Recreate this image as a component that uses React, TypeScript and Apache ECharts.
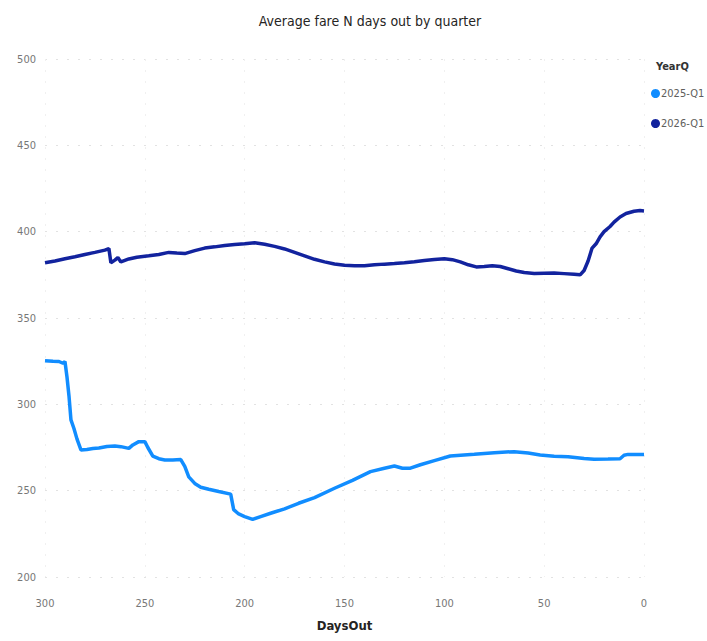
import React, { useEffect, useRef } from "react";
import * as echarts from "echarts";

// Days before departure (x) and average fare (y) for each quarter
const days2025 = [
  300, 296, 293, 291, 290, 289, 288, 287, 285.5, 284, 282, 279, 276, 273, 269, 265, 262, 258, 256, 253,
  250, 248.5, 246, 243, 240, 236, 232, 230, 228, 225, 222, 218, 213, 207, 205.5, 203, 200, 196, 192, 187,
  180, 173, 165, 155, 146, 137, 130, 125, 121, 117, 112, 105, 97, 85, 75, 65, 58, 52, 45, 38,
  30, 25, 18, 12, 10, 8, 0,
];
const fares2025 = [
  325.3, 325, 324.8, 323.8, 324.8, 316, 305, 291, 286, 280, 273.6, 273.8, 274.4, 274.7, 275.6, 275.9, 275.5, 274.5, 276.5, 278.4,
  278.4, 275, 270, 268.5, 267.8, 267.8, 268, 264, 258, 254.2, 252, 250.8, 249.5, 248, 239, 236.5, 235, 233.4, 235, 236.9,
  239.5, 242.7, 246, 251.4, 256, 261, 263, 264.3, 263, 263, 265, 267.4, 270.1, 271.1, 272, 272.6, 271.8, 270.7, 270, 269.7,
  268.6, 268.2, 268.3, 268.5, 270.5, 271, 271,
];

const days2026 = [
  300, 295, 290, 285, 280, 275, 270, 268, 267, 265, 263.5, 262, 258, 254, 248, 243, 238, 234, 230, 225,
  220, 215, 210, 205, 200, 195, 190, 185, 180, 175, 170, 165, 160, 155, 150, 145, 140, 135, 130, 125,
  120, 115, 110, 105, 100, 96, 92, 88, 84, 80, 76, 72, 68, 64, 60, 55, 50, 45, 40, 35,
  32, 30, 28, 26, 24, 22, 20, 17, 15, 12, 9, 5, 2, 0,
];
const fares2026 = [
  382, 383, 384.3, 385.5, 386.8, 388, 389.3, 390.2, 382, 383.5, 385, 382.5, 384.2, 385.2, 386, 386.8, 388, 387.6, 387.3, 389,
  390.5, 391.2, 392, 392.6, 393, 393.6, 392.7, 391.5, 390, 388, 386, 384, 382.5, 381.3, 380.5, 380.3, 380.3, 380.8, 381.2, 381.5,
  382, 382.6, 383.3, 383.9, 384.3, 383.8, 382.5, 380.8, 379.6, 379.8, 380.3, 379.8, 378.5, 377.2, 376.3, 375.8, 375.9, 376, 375.7, 375.3,
  375, 377.5, 383, 390.5, 393, 397, 400, 403, 405.5, 408.5, 410.5, 411.8, 412.2, 412,
];

const seriesNames = ["2025-Q1", "2026-Q1"];
const seriesColors = ["#118DFF", "#12239E"];

const narrow = "'DejaVu Sans Condensed', 'Liberation Sans Narrow', 'Liberation Sans', sans-serif";

export default function App() {
  const ref = useRef<HTMLDivElement>(null);

  useEffect(() => {
    if (!ref.current) return;
    const chart = echarts.init(ref.current, null, { renderer: "svg" });
    const pairs = (xs: number[], ys: number[]) => xs.map((x, i) => [x, ys[i]]);

    chart.setOption({
      animation: false,
      backgroundColor: "#ffffff",
      title: [
        {
          text: "Average fare N days out by quarter",
          left: 365,
          top: 9,
          textAlign: "center",
          textStyle: { fontFamily: narrow, fontSize: 14, fontWeight: "normal", color: "#252423" },
        },
        {
          text: "YearQ",
          left: 651,
          top: 56,
          textStyle: { fontFamily: narrow, fontSize: 11, fontWeight: "bold", color: "#333333" },
        },
      ],
      legend: {
        orient: "vertical",
        left: 651,
        top: 87,
        padding: 0,
        icon: "circle",
        itemWidth: 9,
        itemHeight: 9,
        itemGap: 17,
        data: seriesNames,
        textStyle: { fontFamily: narrow, fontSize: 11, color: "#605E5C", padding: [0, 0, 0, -4], lineHeight: 13 },
      },
      grid: { left: 45, right: 63, top: 59, bottom: 64 },
      xAxis: {
        type: "value",
        inverse: true,
        min: 0,
        max: 300,
        interval: 50,
        name: "DaysOut",
        nameLocation: "middle",
        nameGap: 42,
        nameTextStyle: { fontFamily: narrow, fontSize: 13, fontWeight: "bold", color: "#252423" },
        axisLine: { show: false },
        axisTick: { show: false },
        axisLabel: { fontFamily: narrow, fontSize: 11, color: "#777777", margin: 21 },
        splitLine: { show: true, lineStyle: { color: "#f0f0f0", type: [2, 9], width: 1 } },
      },
      yAxis: {
        type: "value",
        min: 200,
        max: 500,
        interval: 50,
        axisLine: { show: false },
        axisTick: { show: false },
        axisLabel: { fontFamily: narrow, fontSize: 11, color: "#777777", margin: 9 },
        splitLine: { show: true, lineStyle: { color: "#e2e2e2", type: [2, 9], width: 1 } },
      },
      series: [
        {
          name: seriesNames[0],
          type: "line",
          data: pairs(days2025, fares2025),
          showSymbol: false,
          symbol: "circle",
          lineStyle: { width: 3.5, color: seriesColors[0] },
          itemStyle: { color: seriesColors[0] },
        },
        {
          name: seriesNames[1],
          type: "line",
          data: pairs(days2026, fares2026),
          showSymbol: false,
          symbol: "circle",
          lineStyle: { width: 3.5, color: seriesColors[1] },
          itemStyle: { color: seriesColors[1] },
        },
      ],
    });

    return () => chart.dispose();
  }, []);

  return (
    <div
      ref={ref}
      style={{ position: "absolute", left: 0, top: 0, width: 707, height: 641, overflow: "hidden" }}
    />
  );
}
